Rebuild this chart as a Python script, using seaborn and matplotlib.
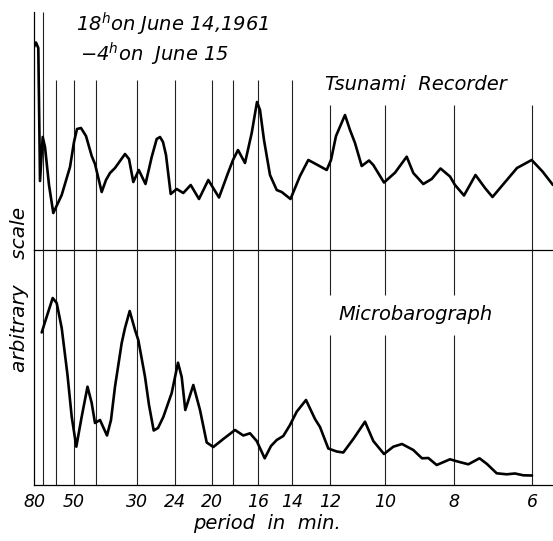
#!/usr/bin/env python3
"""
Power spectra of the tsunami recorder and the microbarograph, June 14-15 1961.
"""

import matplotlib
matplotlib.use("Agg")
import matplotlib.pyplot as plt
import pandas as pd
import seaborn as sns

# Period axis (minutes) and the position of each period along the abscissa
period_ticks = [80, 70, 60, 50, 40, 30, 24, 20, 18, 16, 14, 12, 10, 8, 6]
period_pos = [0, 9, 22, 40, 62, 103, 141, 178, 199, 224, 258, 296, 351, 420, 498]
period_labels = ["80", "", "", "50", "", "30", "24", "20", "", "16", "14", "12", "10", "8", "6"]

# Tsunami recorder spectrum (arbitrary scale)
tsunami_x = [0, 2, 4.3, 5.5, 6, 8.7, 11, 15, 19.3, 27.7, 36, 40, 43, 47, 52, 57.7, 61,
             67.7, 72, 76, 81, 86, 91, 95, 99.3, 104.8, 111.5, 117.7, 122.7, 126, 129,
             132, 136.7, 142.7, 149.3, 156.7, 165, 174.3, 185, 194, 199, 204, 211,
             217.7, 223, 226, 230, 236, 242.7, 247.7, 256.5, 266, 274.3, 282.7, 292.7,
             297, 302, 311, 316, 321, 327.7, 335, 339.3, 350, 361, 372.7, 379.3, 389.3,
             397.7, 406.5, 416, 421, 430, 441.5, 451, 458.5, 472, 483, 497.7, 508.5, 519]
tsunami_y = [203, 207.5, 202, 110, 69, 113, 103, 65, 37, 55, 83, 108, 121, 122, 114, 94, 86,
             58, 70, 77, 82, 89, 96, 91, 68, 80, 66, 93, 111, 113, 108,
             95, 56, 61, 57, 65, 51, 70, 52.5, 77, 90, 100, 87,
             117, 148, 140, 110, 75, 60, 58, 51, 74, 90, 85.5, 80,
             90, 114, 135, 120, 107, 84, 89.5, 85, 67.5, 77.3, 93.3, 77, 66,
             71, 81.5, 73.5, 65, 54.5, 75, 62, 53, 69, 82, 90, 78.5, 65]

# Microbarograph spectrum (arbitrary scale)
baro_x = [7.7, 12.7, 18.7, 22.7, 27.7, 33.5, 37.7, 42.3, 47.7, 53.5, 57.7, 61, 66, 73, 77,
          81, 87.7, 91, 95.7, 101, 104.3, 111, 115, 119.7, 124, 129.3, 137.7, 144, 147.7,
          151.3, 159.3, 166, 172.7, 179.3, 189.3, 201, 209.3, 216, 222.7, 230.7, 237,
          242.7, 249.3, 256, 262.7, 272, 281, 286, 294.3, 302.7, 309.3, 319.3, 331,
          339.3, 350, 359.3, 368, 379.3, 388, 394.3, 402.7, 416, 424.3, 434.3, 445.5,
          453, 462.7, 472.7, 481, 489.3, 498]
baro_y = [152.5, 168.3, 187, 182, 157, 110, 68.3, 38.3, 68.3, 98.3, 82, 62, 65, 49.5, 65,
          98.3, 142, 157, 174, 155, 145, 108.3, 80, 54.5, 57, 68, 92, 122.3, 108,
          75, 100, 75, 42.5, 38, 46, 55, 49.5, 51.7, 44, 26.7, 39,
          45, 49, 60, 73.3, 85, 66, 58, 36.5, 33.5, 32.5, 46, 63.3,
          44, 31, 38.3, 41, 35, 26.7, 27, 20, 25.7, 23.3, 20.7, 26.7,
          21, 11.7, 10.7, 11.5, 9.7, 9.5]

sns.set_style("white")
plt.rcParams["font.family"] = ["DejaVu Sans"]
plt.rcParams["font.style"] = "italic"
plt.rcParams["mathtext.default"] = "it"
plt.rcParams["text.color"] = "black"
plt.rcParams["xtick.color"] = "black"
plt.rcParams["axes.labelcolor"] = "black"

W, H = 553, 541
fig = plt.figure(figsize=(W / 100, H / 100), dpi=100)

x0, x1 = 34, 553
ax_top = fig.add_axes([x0 / W, (H - 250) / H, (x1 - x0) / W, (250 - 12) / H])
ax_bot = fig.add_axes([x0 / W, (H - 485) / H, (x1 - x0) / W, (485 - 250) / H])

df_top = pd.DataFrame({"pos": tsunami_x, "power": tsunami_y})
df_bot = pd.DataFrame({"pos": baro_x, "power": baro_y})

line_kw = dict(color="black", linewidth=1.9, estimator=None, sort=False)
sns.lineplot(data=df_top, x="pos", y="power", ax=ax_top, **line_kw)
sns.lineplot(data=df_bot, x="pos", y="power", ax=ax_bot, **line_kw)

for ax, top in ((ax_top, 238), (ax_bot, 235)):
    ax.set_xlim(0, x1 - x0)
    ax.set_ylim(0, top)
    ax.set_yticks([])
    ax.set_xlabel("")
    ax.set_ylabel("")
    for side in ("top", "right"):
        ax.spines[side].set_visible(False)
    for side in ("left", "bottom"):
        ax.spines[side].set_color("black")
        ax.spines[side].set_linewidth(0.9)
    ax.patch.set_alpha(0)

# vertical period lines
grid_kw = dict(colors="#222222", linewidth=0.8, zorder=0)
for p in period_pos[1:]:
    if p < 20:
        ax_top.vlines(p, 0, 238, **grid_kw)
    elif p < 280:
        ax_top.vlines(p, 0, 170, **grid_kw)
    else:
        ax_top.vlines(p, 0, 145, **grid_kw)
    if 280 < p < 450:
        ax_bot.vlines(p, 0, 150, **grid_kw)
        ax_bot.vlines(p, 190, 235, **grid_kw)
    else:
        ax_bot.vlines(p, 0, 235, **grid_kw)

ax_top.set_xticks(period_pos)
ax_top.set_xticklabels([])
ax_top.tick_params(axis="x", length=0)

ax_bot.set_xticks(period_pos)
ax_bot.set_xticklabels(period_labels, fontsize=12.5)
ax_bot.tick_params(axis="x", length=0, pad=6)

ax_bot.set_xlabel("period  in  min.", fontsize=14)
ax_bot.xaxis.set_label_coords((267 - x0) / (x1 - x0), -0.125)

fig.text(20 / W, 1 - 289 / H, "arbitrary    scale", rotation=90,
         ha="center", va="center", fontsize=14.5)

ax_top.text(382, 166, "Tsunami  Recorder", ha="center", va="center", fontsize=14)
ax_bot.text(382, 171, "Microbarograph", ha="center", va="center", fontsize=14)

fig.text(76 / W, 1 - 31 / H, r"18$^{h}$on June 14,1961", ha="left",
         va="baseline", fontsize=14)
fig.text(80 / W, 1 - 61 / H, "\u22124$^{h}$on  June 15", ha="left",
         va="baseline", fontsize=14)

plt.savefig("out.png", dpi=100)
plt.close()
